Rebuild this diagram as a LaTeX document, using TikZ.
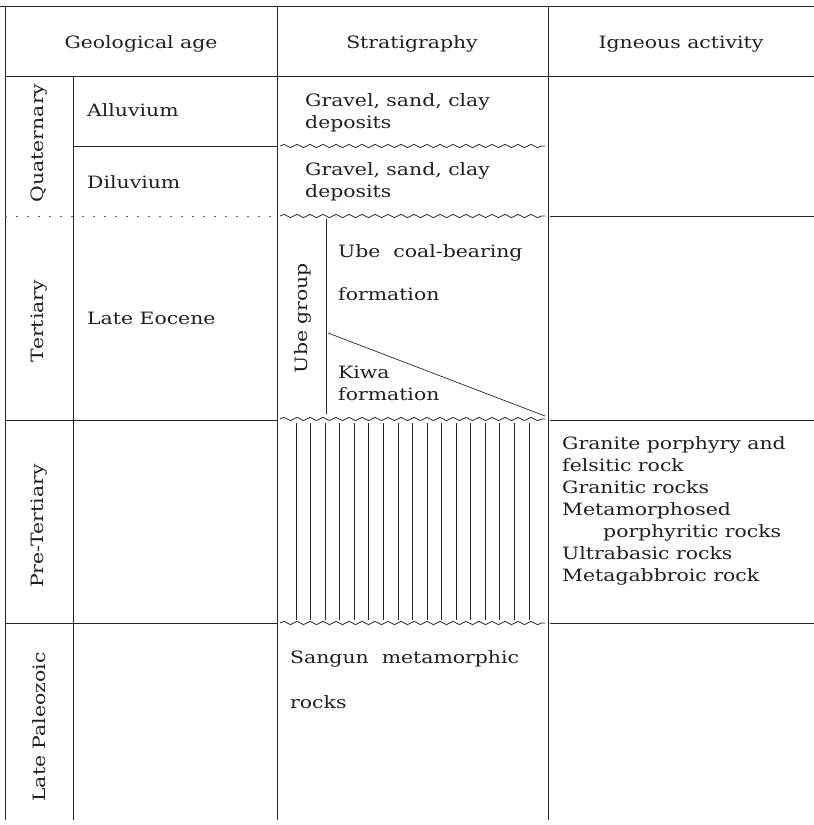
\documentclass[tikz,border=0pt]{standalone}
\usepackage{fontspec}
\setmainfont{DejaVu Serif}[FakeStretch=1.2]
\usetikzlibrary{decorations.pathmorphing}
\begin{document}
\begin{tikzpicture}[x=1pt,y=-1pt,
  every node/.style={font=\fontsize{17}{22}\selectfont, inner sep=0pt, text=black!88},
  rule/.style={draw=black!85, line width=0.9pt},
  dotrule/.style={draw=black!60, line width=0.8pt, dash pattern=on 2pt off 9pt},
  wavy/.style={draw=black!85, line width=0.8pt, decorate, decoration={snake, segment length=13pt, amplitude=1.6pt}},
  hatch/.style={draw=black!85, line width=0.8pt},
  lbl/.style={anchor=base west, align=left},
  hdr/.style={anchor=base},
  vlbl/.style={rotate=90, anchor=center},
]
\useasboundingbox (0,0) rectangle (814,825);

% grid coordinates
\coordinate (tl) at (0,6);   \coordinate (tr) at (814,6);
\coordinate (hl) at (5,76);  \coordinate (hr) at (814,76);
\coordinate (b0t) at (5,6);   \coordinate (b0b) at (5,820);
\coordinate (b1t) at (73,76); \coordinate (b1b) at (73,820);
\coordinate (b2t) at (277,6); \coordinate (b2b) at (277,820);
\coordinate (b3t) at (548,6); \coordinate (b3b) at (548,820);

\draw[rule] (tl) -- (tr);
\draw[rule] (hl) -- (hr);
\draw[rule] (b0t) -- (b0b);
\draw[rule] (b1t) -- (b1b);
\draw[rule] (b2t) -- (b2b);
\draw[rule] (b3t) -- (b3b);

% Alluvium / Diluvium
\coordinate (ad1) at (73,146); \coordinate (ad2) at (277,146);
\coordinate (adw1) at (280,146); \coordinate (adw2) at (545,146);
\draw[rule] (ad1) -- (ad2);
\draw[wavy] (adw1) -- (adw2);

% Quaternary / Tertiary
\coordinate (qt1) at (5,216); \coordinate (qt2) at (277,216);
\coordinate (qtw1) at (280,216); \coordinate (qtw2) at (545,216);
\coordinate (qt3) at (550,216); \coordinate (qt4) at (814,216);
\draw[dotrule] (qt1) -- (qt2);
\draw[wavy] (qtw1) -- (qtw2);
\draw[rule] (qt3) -- (qt4);

% Tertiary / Pre-Tertiary
\coordinate (tp1) at (5,420); \coordinate (tp2) at (277,420);
\coordinate (tpw1) at (280,419); \coordinate (tpw2) at (545,419);
\coordinate (tp3) at (550,420); \coordinate (tp4) at (814,420);
\draw[rule] (tp1) -- (tp2);
\draw[wavy] (tpw1) -- (tpw2);
\draw[rule] (tp3) -- (tp4);

% Pre-Tertiary / Late Paleozoic
\coordinate (pl1) at (5,623); \coordinate (pl2) at (277,623);
\coordinate (plw1) at (280,623); \coordinate (plw2) at (545,623);
\coordinate (pl3) at (550,623); \coordinate (pl4) at (814,623);
\draw[rule] (pl1) -- (pl2);
\draw[wavy] (plw1) -- (plw2);
\draw[rule] (pl3) -- (pl4);

% Ube group
\coordinate (ub1) at (326,219); \coordinate (ub2) at (326,414);
\draw[rule] (ub1) -- (ub2);
\coordinate (dg1) at (328,333); \coordinate (dg2) at (545,416);
\draw[rule, line width=0.7pt] (dg1) -- (dg2);

% hatching
\foreach \i in {0,...,16} {
  \coordinate (h\i a) at ({296+\i*14.56},423);
  \coordinate (h\i b) at ({296+\i*14.56},620);
  \draw[hatch] (h\i a) -- (h\i b);
}

% headers
\node[hdr] (hga) at (141,48) {Geological age};
\node[hdr] (hst) at (412,48) {Stratigraphy};
\node[hdr] (hig) at (681,48) {Igneous activity};

% vertical labels
\node[vlbl] (quat) at (39,143) {Quaternary};
\node[vlbl] (tert) at (39,321) {Tertiary};
\node[vlbl] (pret) at (39,526) {Pre-Tertiary};
\node[vlbl] (lpal) at (39,727) {Late Paleozoic};
\node[vlbl] (ubeg) at (303,318) {Ube group};

% ages
\node[lbl] (allu) at (87,116) {Alluvium};
\node[lbl] (dilu) at (87,188) {Diluvium};
\node[lbl] (leoc) at (87,324) {Late Eocene};

% stratigraphy (base = baseline of last line)
\node[lbl] (gr1) at (305,128) {Gravel,\ sand,\ clay\\deposits};
\node[lbl] (gr2) at (305,197) {Gravel,\ sand,\ clay\\deposits};
\node[lbl] (ucb) at (338,300) {Ube\ \ coal-bearing\\[21pt]formation};
\node[lbl] (kiw) at (338,400) {Kiwa\\formation};
\node[lbl] (san) at (290,708) {Sangun\ \ metamorphic\\[23pt]rocks};

% igneous
\node[lbl] (ign) at (562,581) {Granite porphyry and\\felsitic rock\\Granitic rocks\\Metamorphosed\\\hspace*{41pt}porphyritic rocks\\Ultrabasic rocks\\Metagabbroic rock};

\end{tikzpicture}
\end{document}
